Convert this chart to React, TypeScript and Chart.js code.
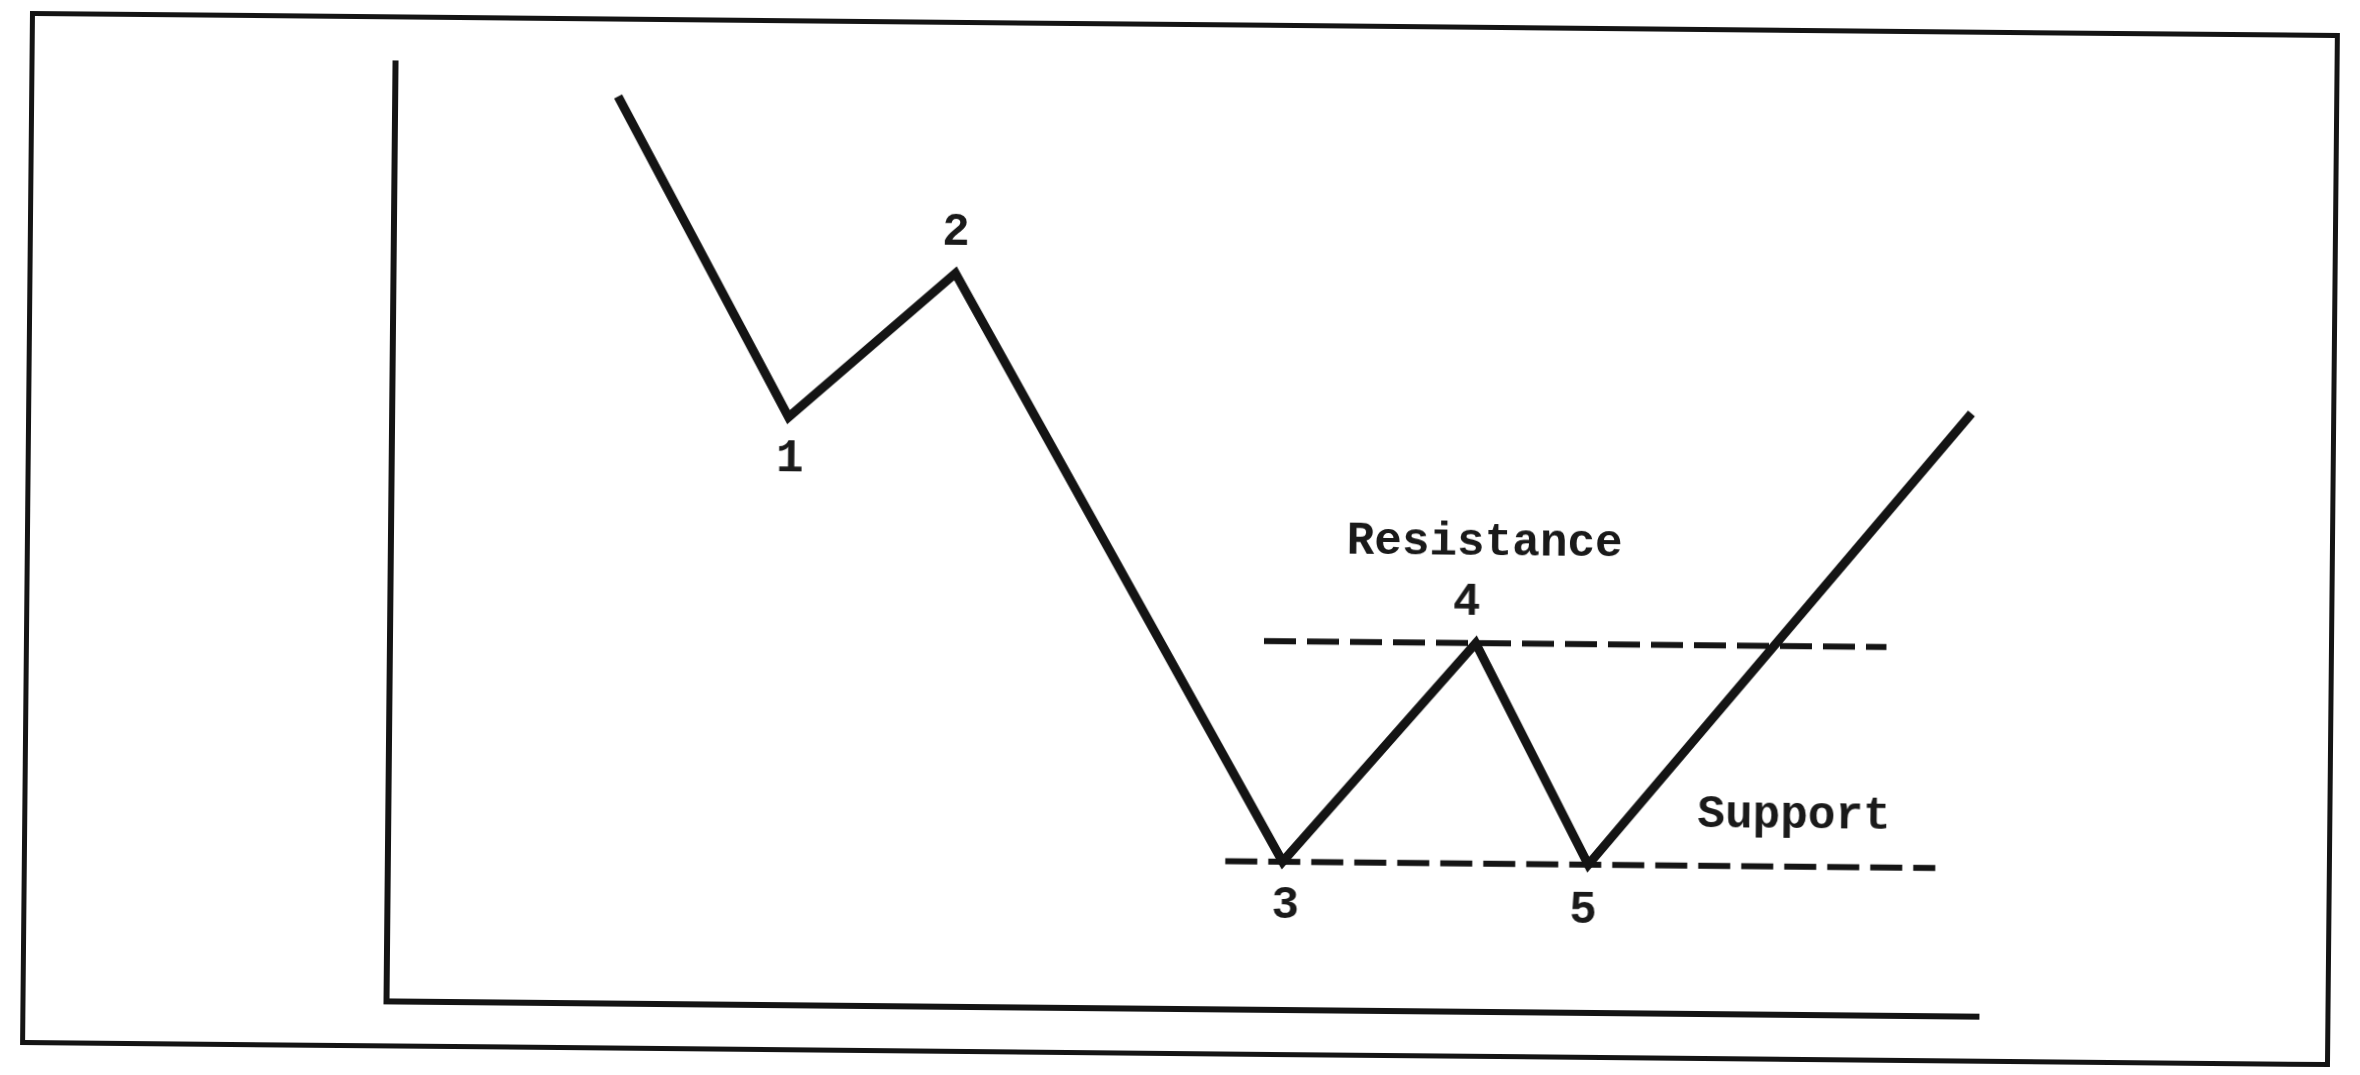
import React, { useEffect, useRef } from "react";
import { Chart, registerables } from "chart.js";

Chart.register(...registerables);

// Price path (pivot points) in chart units
const priceX = [14.0, 24.9, 35.3, 56.2, 68.2, 75.4, 99.2];
const priceY = [96.7, 62.7, 78.2, 15.8, 39.3, 15.8, 64.3];

// Horizontal levels
const resistanceX = [54.9, 94.0];
const resistanceLevel = 39.3;
const supportX = [52.6, 97.2];
const supportLevel = 15.8;

// Text annotations anchored in chart units
const labelTexts = ["1", "2", "3", "4", "5", "Resistance", "Support"];
const labelX = [25.0, 35.3, 56.4, 67.6, 75.1, 68.7, 88.3];
const labelY = [58.2, 82.5, 11.0, 43.6, 10.8, 50.0, 21.2];

const INK = "#141414";

const labelPlugin = {
  id: "pivotLabels",
  afterDatasetsDraw(chart: any) {
    const { ctx, scales } = chart;
    ctx.save();
    ctx.fillStyle = "#1a1a1a";
    ctx.font = 'bold 46px "Liberation Mono", "DejaVu Sans Mono", monospace';
    ctx.textAlign = "center";
    ctx.textBaseline = "middle";
    labelTexts.forEach((t, i) => {
      ctx.fillText(t, scales.x.getPixelForValue(labelX[i]), scales.y.getPixelForValue(labelY[i]));
    });
    ctx.restore();
  },
};

export default function App() {
  const ref = useRef<HTMLCanvasElement | null>(null);

  useEffect(() => {
    if (!ref.current) return;
    const chart = new Chart(ref.current, {
      type: "scatter",
      data: {
        datasets: [
          {
            label: "Price",
            data: priceX.map((x, i) => ({ x, y: priceY[i] })),
            showLine: true,
            borderColor: INK,
            borderWidth: 9,
            borderJoinStyle: "miter",
            borderCapStyle: "butt",
            pointRadius: 0,
            tension: 0,
          },
          {
            label: "Resistance",
            data: resistanceX.map((x) => ({ x, y: resistanceLevel })),
            showLine: true,
            borderColor: INK,
            borderWidth: 6,
            borderDash: [32, 11],
            pointRadius: 0,
          },
          {
            label: "Support",
            data: supportX.map((x) => ({ x, y: supportLevel })),
            showLine: true,
            borderColor: INK,
            borderWidth: 6,
            borderDash: [32, 11],
            pointRadius: 0,
          },
        ],
      },
      options: {
        responsive: false,
        animation: false,
        layout: { padding: { left: 391, right: 377, top: 71, bottom: 66 } },
        plugins: {
          legend: { display: false },
          tooltip: { enabled: false },
        },
        scales: {
          x: {
            type: "linear",
            min: 0,
            max: 100,
            grid: { display: false, drawTicks: false },
            ticks: { display: false },
            border: { display: true, color: INK, width: 6 },
          },
          y: {
            type: "linear",
            min: 0,
            max: 100,
            grid: { display: false, drawTicks: false },
            ticks: { display: false },
            border: { display: true, color: INK, width: 6 },
          },
        },
      },
      plugins: [labelPlugin],
    } as any);
    return () => chart.destroy();
  }, []);

  return (
    <div
      style={{
        position: "fixed",
        left: 0,
        top: 0,
        width: 2360,
        height: 1075,
        background: "#fff",
        overflow: "hidden",
      }}
    >
      <div
        style={{
          position: "absolute",
          left: 0,
          top: 0,
          width: 2360,
          height: 1075,
          transform: "rotate(0.55deg)",
          transformOrigin: "1180px 537px",
        }}
      >
        <div
          style={{
            position: "absolute",
            left: 25,
            top: 22,
            width: 2310,
            height: 1034,
            border: `5px solid ${INK}`,
            boxSizing: "border-box",
          }}
        />
        <canvas
          ref={ref}
          width={2360}
          height={1075}
          style={{ position: "absolute", left: 0, top: 0, width: 2360, height: 1075 }}
        />
      </div>
    </div>
  );
}
